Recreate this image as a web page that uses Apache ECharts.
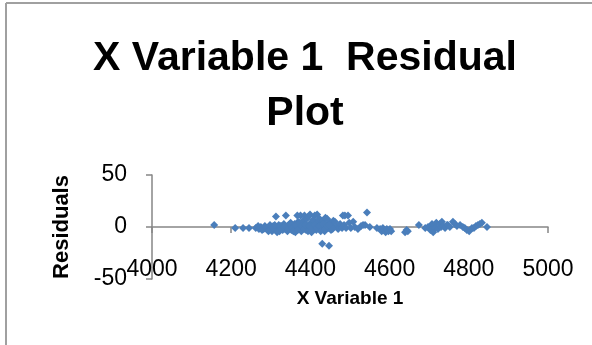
<!DOCTYPE html>
<html>
<head>
<meta charset="utf-8">
<script src="https://cdn.jsdelivr.net/npm/echarts@6/dist/echarts.min.js"></script>
<style>html,body{margin:0;padding:0;background:#fff;}#c{width:592px;height:345px;}</style>
</head>
<body>
<div id="c"></div>
<script>
var titleText = "X Variable 1  Residual\nPlot";
var xAxisName = "X Variable 1";
var yAxisName = "Residuals";
var xTicks = [4000, 4200, 4400, 4600, 4800, 5000];
var yTicks = [-50, 0, 50];

var xValues = [4157,4210,4230,4245,4262,4270,4275,4282,4288,4292,4296,4300,4303,4306,4309,4312,4313,4315,4318,4320,4322,4325,4328,4330,4333,4336,4338,4340,4342,4345,4347,4350,4352,4355,4358,4360,4362,4365,4367,4369,4371,4373,4375,4377,4379,4381,4383,4385,4387,4389,4391,4393,4395,4397,4399,4401,4403,4405,4407,4409,4411,4413,4415,4417,4419,4421,4423,4425,4428,4430,4432,4434,4436,4438,4440,4442,4445,4447,4450,4452,4455,4458,4462,4466,4470,4475,4480,4482,4485,4487,4490,4495,4498,4502,4508,4512,4520,4528,4533,4538,4543,4550,4568,4576,4580,4583,4586,4590,4593,4597,4601,4604,4639,4643,4646,4674,4690,4697,4703,4707,4710,4713,4715,4718,4722,4727,4730,4732,4736,4740,4745,4747,4752,4760,4765,4770,4778,4785,4790,4795,4801,4808,4813,4818,4823,4828,4833,4846,
  4268,4278,4285,4294,4298,4305,4310,4316,4324,4327,4332,4337,4344,4349,4354,4357,4363,4368,4372,4378,4384,4388,4394,4398,4404,4410,4416,4422,4426,4433,4437,4443,4448,4456];
var residuals = [2,-1,-1,-1,-1,-2,0,-2,-1,-3,0,-2,-4,1,-1,-3,10,0,-2,2,-4,-1,1,-3,3,-2,11,0,-4,2,-1,4,-3,1,-2,3,-5,0,11,5,-2,2,11,-4,1,6,-1,11,3,-3,8,0,10,-2,12,4,-5,2,7,-1,11,3,-3,12,5,0,8,-2,3,-16,6,1,-4,9,2,8,-1,-18,4,-3,1,6,5,0,-2,3,-1,11,2,11,-1,11,4,-1,5,0,-2,1,2,2,14,0,-1,-2,-4,-1,-3,-5,-2,-4,-2,-4,-5,-3,-4,2,-1,0,-3,3,-5,1,-1,4,-2,3,0,5,1,-1,2,2,0,5,3,1,2,0,-1,-3,-4,-1,-1,1,2,3,4,0,
  1,-3,1,-4,2,-1,2,-5,1,-2,0,1,-2,3,-1,-4,2,-3,4,1,-2,2,-4,1,-3,2,-1,1,-4,3,-2,1,2,-2];

var points = xValues.map(function (v, i) { return [v, residuals[i]]; });

var chart = echarts.init(document.getElementById('c'), null, {renderer: 'canvas'});
var axisGray = '#868686';
var fontFam = '"Liberation Sans", Arial, sans-serif';
chart.setOption({
  animation: false,
  backgroundColor: '#ffffff',
  title: {
    text: titleText,
    left: 300,
    top: 26,
    textAlign: 'center',
    textStyle: {fontFamily: fontFam, fontWeight: 'bold', fontSize: 41, lineHeight: 55, color: '#000'}
  },
  graphic: [
    {type: 'line', shape: {x1: 6, y1: 3, x2: 6, y2: 345}, style: {stroke: '#a0a0a0', lineWidth: 2}, silent: true},
    {type: 'line', shape: {x1: 6, y1: 3, x2: 592, y2: 3}, style: {stroke: '#a0a0a0', lineWidth: 2}, silent: true}
  ],
  grid: {left: 152, right: 44, top: 175, bottom: 66, containLabel: false, outerBoundsMode: 'none'},
  xAxis: {
    type: 'value',
    min: xTicks[0],
    max: xTicks[xTicks.length - 1],
    interval: 200,
    name: xAxisName,
    nameLocation: 'middle',
    nameGap: 10,
    nameTextStyle: {fontFamily: fontFam, fontWeight: 'bold', fontSize: 19, color: '#000'},
    axisLine: {show: true, onZero: true, lineStyle: {color: axisGray, width: 1.5}},
    axisTick: {show: true, length: 6, lineStyle: {color: axisGray, width: 1.5}},
    axisLabel: {margin: -21, fontFamily: fontFam, fontSize: 23, color: '#000', formatter: function (v) { return String(v); }},
    splitLine: {show: false}
  },
  yAxis: {
    type: 'value',
    min: yTicks[0],
    max: yTicks[yTicks.length - 1],
    interval: 50,
    name: yAxisName,
    nameLocation: 'middle',
    nameGap: 79,
    nameRotate: 90,
    nameTextStyle: {fontFamily: fontFam, fontWeight: 'bold', fontSize: 22, color: '#000'},
    axisLine: {show: true, onZero: false, lineStyle: {color: axisGray, width: 1.5}},
    axisTick: {show: true, length: 6, lineStyle: {color: axisGray, width: 1.5}},
    axisLabel: {margin: 25, fontFamily: fontFam, fontSize: 23, color: '#000', formatter: function (v) { return String(v); }},
    splitLine: {show: false}
  },
  series: [{
    type: 'scatter',
    data: points,
    symbol: 'diamond',
    symbolSize: 8,
    itemStyle: {color: '#4a7ebb', opacity: 1}
  }]
});
</script>
</body>
</html>
